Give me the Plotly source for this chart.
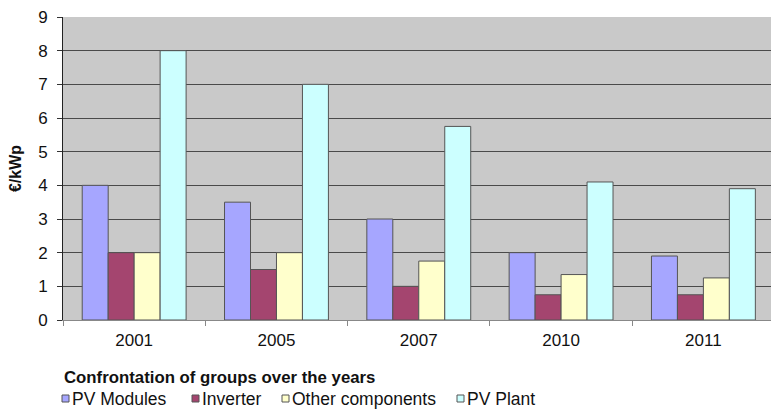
import plotly.graph_objects as go

years = ["2001", "2005", "2007", "2010", "2011"]
pv_modules = [4.0, 3.5, 3.0, 2.0, 1.9]
inverter = [2.0, 1.5, 1.0, 0.75, 0.75]
other_components = [2.0, 2.0, 1.75, 1.35, 1.25]
pv_plant = [8.0, 7.0, 5.75, 4.1, 3.9]

series_names = ["PV Modules", "Inverter", "Other components", "PV Plant"]
series_values = [pv_modules, inverter, other_components, pv_plant]
series_colors = ["#A6A6FF", "#A4456F", "#FFFFCC", "#CCFFFF"]

font_family = "Liberation Sans, Arial, sans-serif"

# page and plot-area geometry (pixels)
W, H = 771, 411
ML, MR, MT, MB = 63, 0, 17, 91
PW, PH = W - ML - MR, H - MT - MB


def px_x(x):
    return (x - ML) / PW


def px_y(y):
    return (H - MB - y) / PH


fig = go.Figure()
for name, vals, color in zip(series_names, series_values, series_colors):
    fig.add_trace(go.Bar(
        name=name, x=years, y=vals,
        marker=dict(color=color, line=dict(color="#555555", width=1)),
        showlegend=False,
    ))

# legend block under the axis: bold heading plus one swatch per series
legend_title = "Confrontation of groups over the years"
annotations = [dict(
    text=f"<b>{legend_title}</b>", xref="paper", yref="paper",
    x=px_x(62), y=px_y(377), xanchor="left", yanchor="middle",
    showarrow=False, font=dict(size=16.8, color="#111111"),
)]
shapes = []
swatch_left = [62, 192, 282, 457]
for name, color, sx in zip(series_names, series_colors, swatch_left):
    shapes.append(dict(
        type="rect", xref="paper", yref="paper",
        x0=px_x(sx), x1=px_x(sx + 7), y0=px_y(402), y1=px_y(395),
        fillcolor=color, line=dict(color="#555555", width=1),
    ))
    annotations.append(dict(
        text=name, xref="paper", yref="paper",
        x=px_x(sx + 8), y=px_y(399), xanchor="left", yanchor="middle",
        showarrow=False, font=dict(size=17.5, color="#111111"),
    ))

fig.update_layout(
    width=W, height=H,
    margin=dict(l=ML, r=MR, t=MT, b=MB),
    paper_bgcolor="white",
    plot_bgcolor="#C9C9C9",
    barmode="group",
    bargap=0.27,
    bargroupgap=0,
    font=dict(family=font_family, size=16, color="#111111"),
    showlegend=False,
    annotations=annotations,
    shapes=shapes,
    xaxis=dict(
        range=[-0.5, 4.475],
        showline=True, linecolor="#888888", linewidth=1,
        ticks="outside", tickson="boundaries", ticklen=5, tickcolor="#888888",
        showgrid=False,
        tickfont=dict(size=17),
        ticklabelstandoff=5,
    ),
    yaxis=dict(
        range=[0, 9], dtick=1,
        showline=True, linecolor="#222222", linewidth=1,
        ticks="outside", ticklen=5, tickcolor="#333333",
        showgrid=True, gridcolor="#4A4A4A", gridwidth=1,
        zeroline=False,
        tickfont=dict(size=17),
        ticklabelstandoff=6,
        title=dict(text="<b>€/kWp</b>", font=dict(size=16), standoff=12),
    ),
)

fig.write_html("out.html")
